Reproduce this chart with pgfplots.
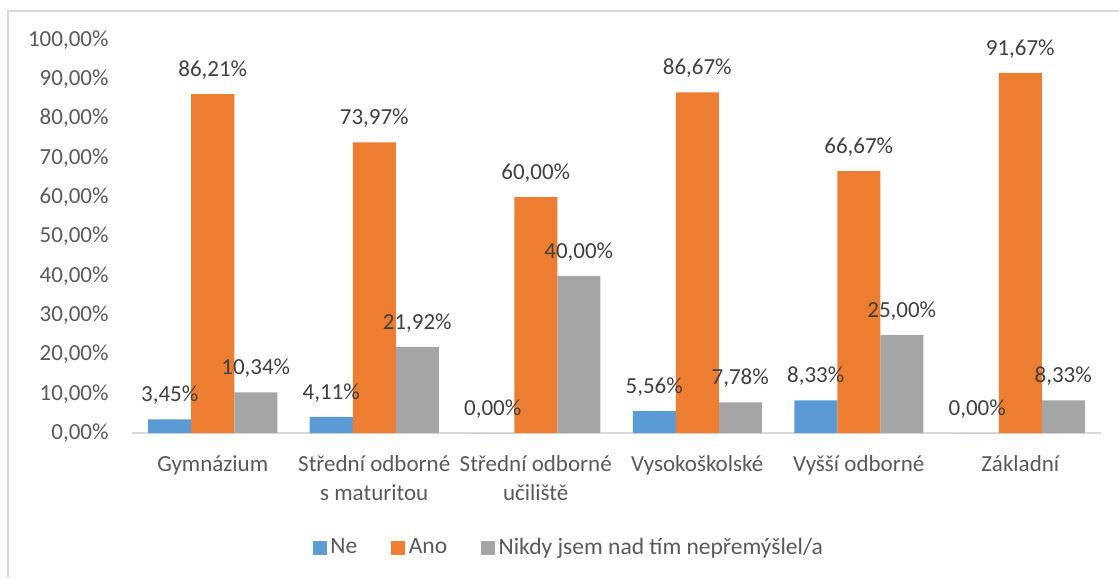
\documentclass[border=0pt]{standalone}
\usepackage{fontspec}
\setmainfont{Carlito}
\usepackage{pgfplots}
\pgfplotsset{compat=1.18}
\definecolor{cblue}{HTML}{5B9BD5}
\definecolor{corange}{HTML}{ED7D31}
\definecolor{cgray}{HTML}{A5A5A5}
\definecolor{ctext}{HTML}{595959}
\definecolor{clabel}{HTML}{404040}
\definecolor{cline}{HTML}{D9D9D9}
\begin{document}
\begin{tikzpicture}[font=\fontsize{9.2pt}{11.6pt}\selectfont]
\useasboundingbox (0,0) rectangle (447.6pt,-231.2pt);
\draw[cline, line width=0.5pt] (3.2pt,-231.2pt) -- (3.2pt,-4.4pt) -- (447.6pt,-4.4pt);
\begin{axis}[
  at={(52.8pt,-173.2pt)}, anchor=south west,
  scale only axis, width=387.6pt, height=157.2pt,
  ybar=0pt, bar width=17.2pt,
  xmin=-0.5, xmax=5.5, ymin=0, ymax=100,
  xtick={0,1,2,3,4,5},
  xticklabels={Gymnázium, {Střední odborné\\s maturitou}, {Střední odborné\\učiliště}, Vysokoškolské, Vyšší odborné, Základní},
  ytick={0,10,...,100},
  /pgf/number format/.cd, fixed, fixed zerofill, precision=2, use comma, assume math mode=true,
  /pgfplots/.cd,
  yticklabel={\pgfmathprintnumber{\tick}\%},
  axis x line*=bottom, axis y line*=left,
  y axis line style={draw=none},
  x axis line style={draw=cline, line width=0.8pt, -},
  major tick length=0pt,
  xticklabel style={align=center, text=ctext, inner sep=0pt, yshift=-9pt},
  yticklabel style={text=ctext, inner sep=0pt, anchor=east, xshift=-9.2pt},
  clip=false,
  nodes near coords={\pgfmathprintnumber{\pgfplotspointmeta}\%},
  every node near coord/.append style={text=clabel, anchor=base, yshift=7pt, inner sep=0pt},
  legend columns=3,
  legend style={draw=none, fill=none, at={(0.186,-0.293)}, anchor=west, inner sep=0pt,
    text=ctext, font=\fontsize{9.4pt}{11.6pt}\selectfont,
    /tikz/every even column/.append style={column sep=12pt},
    nodes={inner sep=1.5pt}},
]
\addplot[fill=cblue, draw=none, legend image code/.code={\fill[cblue] (0pt,-2.8pt) rectangle (5.6pt,2.8pt);}]
  coordinates {(0,3.45) (1,4.11) (2,0) (3,5.56) (4,8.33) (5,0)};
\addplot[fill=corange, draw=none, legend image code/.code={\fill[corange] (0pt,-2.8pt) rectangle (5.6pt,2.8pt);}]
  coordinates {(0,86.21) (1,73.97) (2,60.00) (3,86.67) (4,66.67) (5,91.67)};
\addplot[fill=cgray, draw=none, legend image code/.code={\fill[cgray] (0pt,-2.8pt) rectangle (5.6pt,2.8pt);}]
  coordinates {(0,10.34) (1,21.92) (2,40.00) (3,7.78) (4,25.00) (5,8.33)};
\legend{Ne, Ano, Nikdy jsem nad tím nepřemýšlel/a}
\end{axis}
\end{tikzpicture}
\end{document}
